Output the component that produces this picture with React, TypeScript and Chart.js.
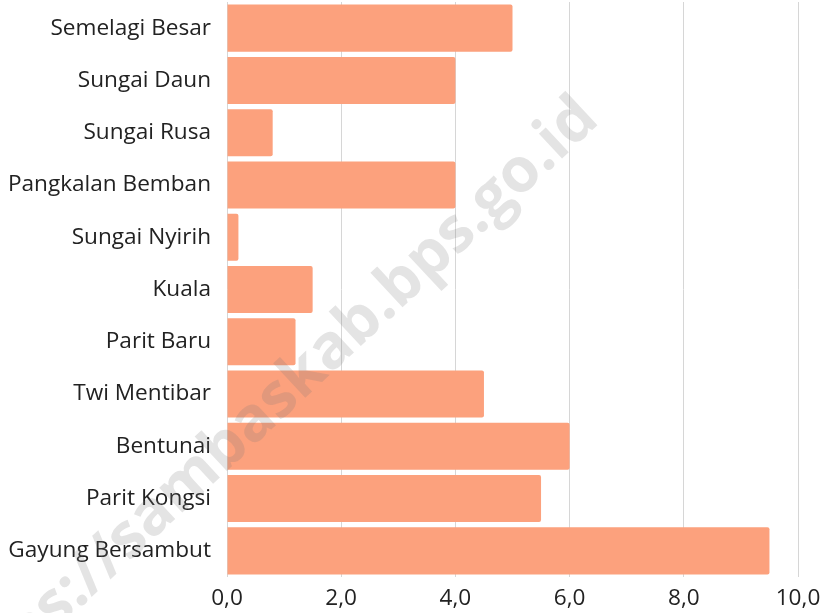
import React, { useEffect, useRef } from "react";
import { Chart, registerables } from "chart.js";

Chart.register(...registerables);

const categories = [
  "Semelagi Besar",
  "Sungai Daun",
  "Sungai Rusa",
  "Pangkalan Bemban",
  "Sungai Nyirih",
  "Kuala",
  "Parit Baru",
  "Twi Mentibar",
  "Bentunai",
  "Parit Kongsi",
  "Gayung Bersambut",
];
const values = [5.0, 4.0, 0.8, 4.0, 0.2, 1.5, 1.2, 4.5, 6.0, 5.5, 9.5];
const xMin = 0;
const xMax = 10;
const xStep = 2;
const watermark = "https://sambaskab.bps.go.id";

export default function App() {
  const ref = useRef<HTMLCanvasElement | null>(null);
  useEffect(() => {
    document.body.style.margin = "0";
    const canvas = ref.current!;
    const wm = {
      id: "wm",
      afterDraw(chart: any) {
        const ctx = chart.ctx;
        ctx.save();
        ctx.translate(601, 122);
        ctx.rotate((-43 * Math.PI) / 180);
        ctx.font = "bold 62px 'Open Sans'";
        ctx.fillStyle = "rgba(120,120,120,0.2)";
        ctx.textAlign = "right";
        ctx.textBaseline = "alphabetic";
        ctx.fillText(watermark, 0, 0);
        ctx.restore();
      },
    };
    const chart = new Chart(canvas, {
      type: "bar",
      data: {
        labels: categories,
        datasets: [
          {
            data: values,
            backgroundColor: "#FCA17D",
            borderRadius: 2,
            borderSkipped: "start",
            categoryPercentage: 1,
            barPercentage: 0.9,
          },
        ],
      },
      options: {
        indexAxis: "y",
        animation: false,
        responsive: false,
        maintainAspectRatio: false,
        layout: { padding: { top: 2, right: 31, left: 0, bottom: 0 } },
        plugins: { legend: { display: false }, tooltip: { enabled: false } },
        scales: {
          x: {
            min: xMin,
            max: xMax,
            ticks: {
              stepSize: xStep,
              color: "#222",
              padding: 8,
              font: { family: "'Open Sans'", size: 22.6 },
              callback: (v: any) => Number(v).toFixed(1).replace(".", ","),
            },
            grid: { color: "#d6d6d6", drawTicks: false, lineWidth: 1 },
            border: { display: false },
            afterFit: (s: any) => {
              s.height = 36;
            },
          },
          y: {
            ticks: {
              color: "#222",
              padding: 16,
              font: { family: "'Open Sans'", size: 22.6 },
            },
            grid: { display: false, drawTicks: false },
            border: { display: false },
            afterFit: (s: any) => {
              s.width = 227;
              s.paddingTop = 0;
              s.paddingBottom = 0;
            },
          },
        },
      },
      plugins: [wm],
    });
    return () => chart.destroy();
  }, []);
  return (
    <div style={{ position: "absolute", left: 0, top: 0, width: 829, height: 613 }}>
      <canvas ref={ref} width={829} height={613} style={{ width: 829, height: 613 }} />
    </div>
  );
}
